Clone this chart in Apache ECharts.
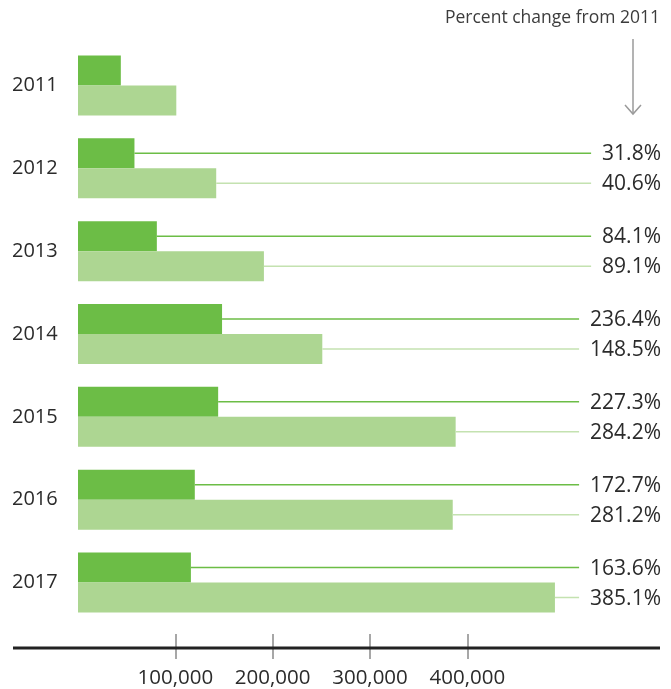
<!DOCTYPE html>
<html>
<head>
  <meta charset="utf-8">
  <title>Percent change from 2011</title>
  <script src="https://cdn.jsdelivr.net/npm/echarts@6/dist/echarts.min.js"></script>
  <style>
    html, body { margin: 0; padding: 0; background: #fff; }
  </style>
</head>
<body>
<div id="main" style="width: 671px;height:689px;"></div>

<script type="text/javascript">
  // values
  var years = ['2011', '2012', '2013', '2014', '2015', '2016', '2017'];
  var darkValues = [44000, 58000, 81000, 148000, 144000, 120000, 116000];
  var lightValues = [101000, 142000, 191000, 251000, 388000, 385000, 490000];
  var darkPct = [null, '31.8%', '84.1%', '236.4%', '227.3%', '172.7%', '163.6%'];
  var lightPct = [null, '40.6%', '89.1%', '148.5%', '284.2%', '281.2%', '385.1%'];
  var tickValues = [100000, 200000, 300000, 400000];

  var font = '"Open Sans", "Noto Sans", sans-serif';
  var darkGreen = '#6cbd46';
  var lightGreen = '#add692';
  var lightLine = '#c4e2b0';
  var textColor = '#2b2b2b';

  // leader lines + percent labels
  var leaderData = [];
  for (var i = 0; i < years.length; i++) {
    if (darkPct[i]) leaderData.push([darkValues[i], i, darkPct[i], 0]);
    if (lightPct[i]) leaderData.push([lightValues[i], i, lightPct[i], 1]);
  }

  function renderLeader(params, api) {
    var p = api.coord([api.value(0), api.value(1)]);
    var kind = api.value(3);
    var y = p[1] + (kind === 0 ? -15 : 15);
    var label = leaderData[params.dataIndex][2];
    return {
      type: 'group',
      children: [{
        type: 'line',
        shape: {x1: p[0], y1: y, x2: 660, y2: y},
        style: {stroke: kind === 0 ? darkGreen : lightLine, lineWidth: 1.5}
      }, {
        type: 'text',
        style: {
          text: label,
          x: 661,
          y: y + 1,
          align: 'right',
          verticalAlign: 'middle',
          fontSize: 21,
          fontFamily: font,
          fill: textColor,
          backgroundColor: '#fff',
          padding: [2, 0, 2, 11]
        }
      }]
    };
  }

  var myChart = echarts.init(document.getElementById('main'));
  var option = {
    animation: false,
    backgroundColor: '#fff',
    textStyle: {fontFamily: font},
    grid: [
      {left: 78, right: 9, top: 44, height: 580},
      {left: 78, right: 9, top: 630, height: 30}
    ],
    xAxis: [{
      gridIndex: 0,
      type: 'value',
      min: 0,
      max: 600000,
      show: false
    }, {
      gridIndex: 1,
      type: 'value',
      min: 0,
      max: 600000,
      interval: 100000,
      axisLine: {show: false},
      splitLine: {show: false},
      axisTick: {
        inside: true,
        length: 25,
        customValues: tickValues,
        lineStyle: {color: '#8a8a8a', width: 1.5}
      },
      axisLabel: {
        customValues: tickValues,
        margin: 9,
        fontSize: 20.5,
        color: textColor,
        fontFamily: font,
        formatter: function (v) {
          return v.toLocaleString('en-US');
        }
      }
    }],
    yAxis: [{
      gridIndex: 0,
      type: 'category',
      data: years,
      inverse: true,
      axisLine: {show: false},
      axisTick: {show: false},
      splitLine: {show: false},
      axisLabel: {
        margin: 66,
        align: 'left',
        fontSize: 20,
        color: textColor,
        fontFamily: font
      }
    }, {
      gridIndex: 1,
      type: 'value',
      show: false
    }],
    series: [{
      name: 'dark',
      type: 'bar',
      xAxisIndex: 0,
      yAxisIndex: 0,
      data: darkValues,
      barWidth: 30,
      barGap: '0%',
      itemStyle: {color: darkGreen}
    }, {
      name: 'light',
      type: 'bar',
      xAxisIndex: 0,
      yAxisIndex: 0,
      data: lightValues,
      barWidth: 30,
      barGap: '0%',
      itemStyle: {color: lightGreen}
    }, {
      type: 'custom',
      xAxisIndex: 0,
      yAxisIndex: 0,
      renderItem: renderLeader,
      encode: {x: 0, y: 1},
      data: leaderData,
      z: 5
    }],
    graphic: [{
      type: 'line',
      shape: {x1: 13, y1: 648, x2: 660, y2: 648},
      style: {stroke: '#222', lineWidth: 3},
      z: 10
    }, {
      type: 'text',
      style: {
        text: 'Percent change from 2011',
        x: 660,
        y: 18,
        align: 'right',
        verticalAlign: 'middle',
        fontSize: 17.5,
        fontFamily: font,
        fill: '#3c3c3c'
      }
    }, {
      type: 'line',
      shape: {x1: 633, y1: 39, x2: 633, y2: 114},
      style: {stroke: '#9a9a9a', lineWidth: 1.5}
    }, {
      type: 'polyline',
      shape: {points: [[625, 105], [633, 114], [641, 105]]},
      style: {stroke: '#9a9a9a', lineWidth: 1.5, fill: null}
    }]
  };
  myChart.setOption(option);
</script>
</body>
</html>
